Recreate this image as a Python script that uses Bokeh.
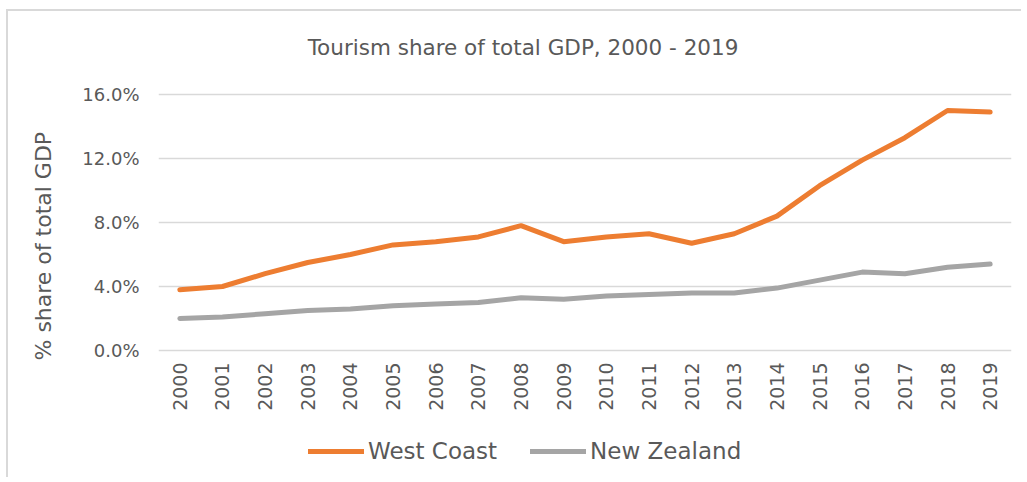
import math
from bokeh.plotting import figure
from bokeh.models import (Range1d, FactorRange, Label, Legend, LegendItem, Title,
                          ColumnDataSource, FixedTicker, PrintfTickFormatter)
from bokeh.embed import file_html
from bokeh.resources import INLINE

# ---- data ----
years = ["2000", "2001", "2002", "2003", "2004", "2005", "2006", "2007", "2008", "2009",
         "2010", "2011", "2012", "2013", "2014", "2015", "2016", "2017", "2018", "2019"]
west_coast = [3.8, 4.0, 4.8, 5.5, 6.0, 6.6, 6.8, 7.1, 7.8, 6.8,
              7.1, 7.3, 6.7, 7.3, 8.4, 10.3, 11.9, 13.3, 15.0, 14.9]
new_zealand = [2.0, 2.1, 2.3, 2.5, 2.6, 2.8, 2.9, 3.0, 3.3, 3.2,
               3.4, 3.5, 3.6, 3.6, 3.9, 4.4, 4.9, 4.8, 5.2, 5.4]
y_ticks = [0, 4, 8, 12, 16]
title_text = "Tourism share of total GDP, 2000 - 2019"
y_label_text = "% share of total GDP"
series_names = ["West Coast", "New Zealand"]

FONT = "DejaVu Sans"
TXT = "#595959"
GRID = "#d9d9d9"

# Layout: canvas is 468 px tall; the 0-16 % value band occupies 256 px
# (16 px per percentage point), with room above it for the title and
# below it for the category labels and the legend.
H = 468
PX_PER_UNIT = 16
ZERO_FROM_TOP = 339
Y_TOP = ZERO_FROM_TOP / PX_PER_UNIT
Y_BOTTOM = -(H - ZERO_FROM_TOP) / PX_PER_UNIT

src = ColumnDataSource(dict(year=years, wc=west_coast, nz=new_zealand))

p = figure(width=1015, height=H, x_range=FactorRange(factors=years),
           y_range=Range1d(Y_BOTTOM, Y_TOP), output_backend="svg",
           toolbar_location=None, min_border_left=148, min_border_right=12,
           min_border_top=0, min_border_bottom=0)
p.styles = {"border-left": "2px solid #d9d9d9", "border-top": "2px solid #d9d9d9",
            "margin-top": "9px", "margin-left": "6px"}
p.title.visible = False
p.outline_line_color = None
p.background_fill_color = "white"
p.border_fill_color = "white"

r_wc = p.line("year", "wc", source=src, line_color="#ED7D31", line_width=5,
              line_cap="round", line_join="round")
r_nz = p.line("year", "nz", source=src, line_color="#A5A5A5", line_width=5,
              line_cap="round", line_join="round")

# grid
p.xgrid.grid_line_color = None
p.ygrid.ticker = FixedTicker(ticks=y_ticks)
p.ygrid.grid_line_color = GRID
p.ygrid.grid_line_width = 1.5

# y axis
ya = p.yaxis[0]
ya.ticker = FixedTicker(ticks=y_ticks)
ya.formatter = PrintfTickFormatter(format="%.1f%%")
ya.axis_line_color = None
ya.major_tick_line_color = None
ya.minor_tick_line_color = None
ya.major_tick_out = 0
ya.major_tick_in = 0
ya.major_label_standoff = 19
ya.major_label_text_font = FONT
ya.major_label_text_font_size = "18px"
ya.major_label_text_color = TXT

# x axis, pinned to the 0 % line
xa = p.xaxis[0]
xa.fixed_location = 0
xa.axis_line_color = None
xa.major_tick_line_color = None
xa.major_tick_out = 0
xa.major_tick_in = 0
xa.major_label_orientation = math.pi / 2
xa.major_label_standoff = 12
xa.major_label_text_font = FONT
xa.major_label_text_font_size = "19px"
xa.major_label_text_color = TXT

# chart title
p.add_layout(Label(x=364.5, y=432, x_units="screen", y_units="screen",
                   text=title_text, text_align="center", text_baseline="middle",
                   text_font=FONT, text_font_size="21.5px", text_color=TXT))

# y axis title
p.add_layout(Title(text=y_label_text, align="left", offset=119,
                   vertical_align="top", standoff=44, text_font=FONT,
                   text_font_size="22px", text_font_style="normal",
                   text_color=TXT), "left")

legend = Legend(items=[LegendItem(label=series_names[0], renderers=[r_wc]),
                       LegendItem(label=series_names[1], renderers=[r_nz])],
                orientation="horizontal", location=(150, 15),
                glyph_width=56, glyph_height=20, label_standoff=4, spacing=33,
                padding=0, margin=0, border_line_color=None,
                background_fill_alpha=0, label_text_font=FONT,
                label_text_font_size="23px", label_text_color=TXT)
p.add_layout(legend)

open("out.html", "w").write(file_html(p, INLINE))
